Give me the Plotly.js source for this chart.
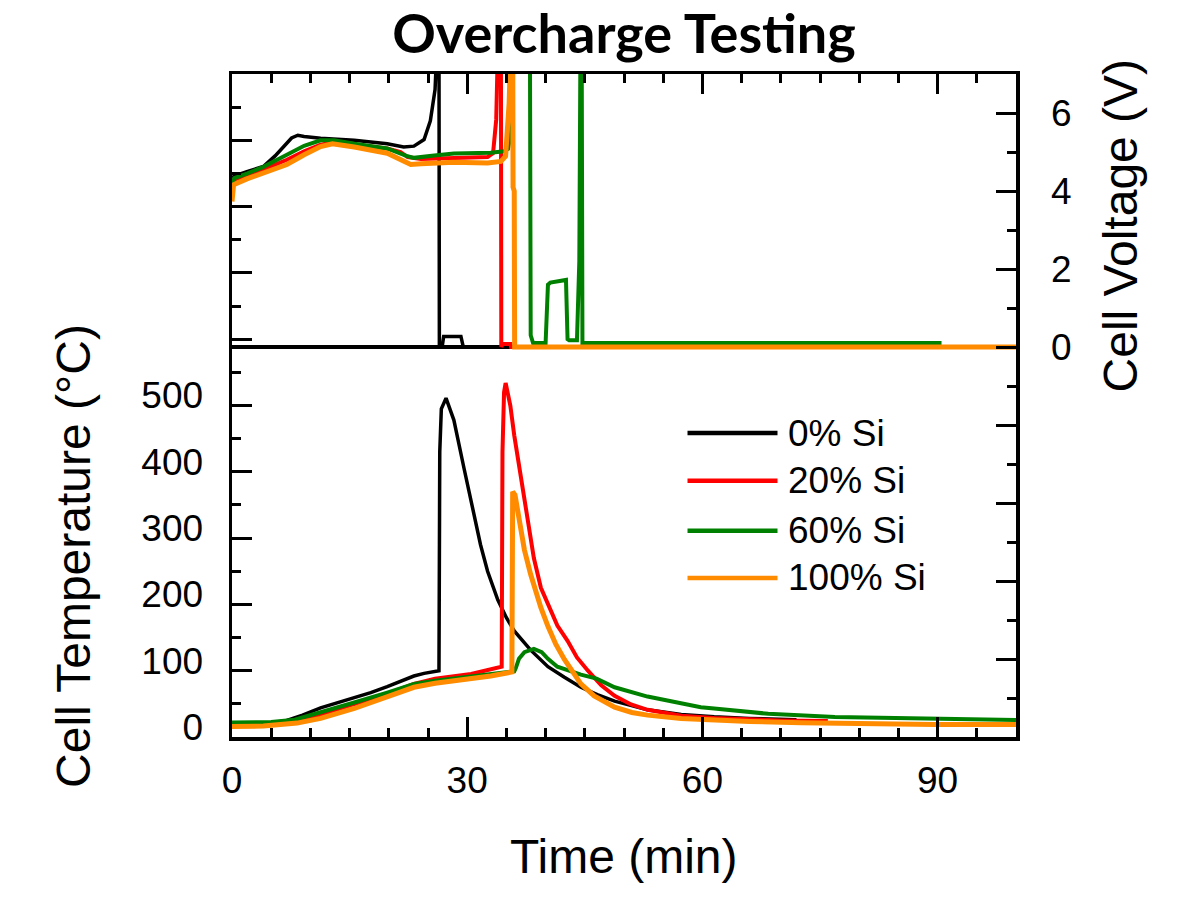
<!DOCTYPE html>
<html>
<head>
<meta charset="utf-8">
<script src="https://cdn.plot.ly/plotly-3.0.1.min.js"></script>
<style>html,body{margin:0;padding:0;background:#fff;}#chart{width:1192px;height:901px;}</style>
</head>
<body>
<div id="chart"></div>
<script>
// ---- Series names / colours ----
const seriesNames = ['0% Si', '20% Si', '60% Si', '100% Si'];
const seriesColors = ['#000000', '#ff0000', '#008000', '#ff8c00'];

// ---- Cell voltage (top panel), time in min, voltage in V ----
const vTime0 = [0,0.5,2,4,5.5,6.6,7.6,8.4,9.2,11.3,15.6,19.8,21.9,23.2,24.5,25.3,25.9,26.2,26.4,26.45,26.8,27.0,29.2,29.5,35];
const vVolt0 = [4.35,4.4,4.5,4.63,4.9,5.14,5.36,5.43,5.40,5.35,5.30,5.21,5.13,5.15,5.32,5.8,6.6,8,8,0,0,0.27,0.27,0,0];

const vTime20 = [0,0.3,2,4,7,9.2,11.3,13,15.6,19.8,21.5,22.4,24.1,28.3,32.6,33.3,33.7,33.95,34.3,34.35,34.5,35.5,35.6,36.5];
const vVolt20 = [4.1,4.29,4.42,4.55,4.80,5.02,5.19,5.25,5.19,5.09,5.0,4.87,4.82,4.85,4.87,4.97,5.83,8,8,0,0.08,0.08,0,0];

const vTime60 = [0,0.3,2,4,7,9.2,11.3,13,15.6,19.8,22.4,23.2,25.8,28.3,33,34.7,35.2,35.6,35.9,38.0,38.1,38.4,40.0,40.3,40.6,42.2,42.6,42.8,43.0,44.0,44.2,44.3,44.45,44.6,44.7,90.5];
const vVolt60 = [4.2,4.33,4.45,4.62,4.93,5.16,5.30,5.30,5.21,5.09,4.89,4.85,4.91,4.96,4.98,5.02,5.08,5.5,8,8,0.3,0.1,0.1,1.6,1.65,1.7,1.72,0.2,0.17,0.17,1.5,2.2,8,8,0.1,0.1];

const vTime100 = [0,0.2,1.9,4.1,7,9.2,11.3,12.8,15.6,19.8,21.5,22.8,24.1,28.3,32.6,34.3,34.9,35.35,35.6,35.8,35.85,36.0,36.05,100];
const vVolt100 = [3.73,4.16,4.31,4.46,4.68,4.93,5.14,5.21,5.13,4.97,4.80,4.68,4.70,4.74,4.72,4.76,4.89,6.26,8,8,4.1,4.0,0,0];

// ---- Cell temperature (bottom panel), time in min, temperature in °C ----
const tTime0 = [0,5,7,9,11.3,13.5,15.6,17.7,19.8,21.5,23.2,24.5,26.4,26.5,26.7,27.3,28.3,29.6,30.9,31.7,32.6,33.9,35,36,38.1,40.3,42.4,44.5,46.6,48.8,53,57.3,61.5,66,72];
const tTemp0 = [21,21,25,33,44,52,59,67,76,84,92,96,100,430,495,511,478,405,335,290,250,207,180,160,131,106,90,75,64,54,41,34,30.5,28,26];

const tTime20 = [0,5,8,11.3,15.6,19.8,23.2,25.9,30.5,34.1,34.4,34.5,34.7,34.9,35.5,36,36.6,37.3,38.1,38.5,39.4,40.3,41.5,42.8,44,45.4,47.1,48.8,50.9,53,57.3,61.5,66,70,76];
const tTemp20 = [19,19.5,22,34,50,65,80,88,95,104,106,430,520,534,500,455,410,365,300,270,225,200,168,145,120,100,78,62,49,41,32,28.5,26.5,25,24];

const tTime60 = [0,5,8,11.3,15.6,19.8,22,23.2,25.9,30.5,33,36,36.2,36.6,37.3,38.5,39.5,40.3,41.5,42.8,44.5,46.5,48.8,53,57.3,59.8,61.5,65.8,68.4,76.9,89.6,100];
const tTemp60 = [22,22.5,26,37,52,67,76,80,85,91,94,99,104,118,128,133,128,118,106,101,94,88,75,61,50,45,43,37.5,35,30,27,25.5];

const tTime100 = [0,4,8.3,11.3,15.6,19.8,23.2,25.9,30.5,33,35.7,35.8,36.1,36.4,37.3,38.1,39.4,40.3,41.3,42.4,43.5,44.5,46.2,48.8,51,53,57.3,61.5,66,72.6,80,89.6,100];
const tTemp100 = [16,16.5,21,28,43,60,75,81,88,92,98,370,365,345,282,245,195,167,140,117,98,80,62,45,37,33,28,25.5,23.5,21.5,20,19,19];

// ---- Tick labels ----
const xTickVals = [0, 30, 60, 90];
const tempTickVals = [0,100,200,300,400,500,600,700,800,900];
const tempTickText = ['0','100','200','300','400','500','','','',''];
const voltTickVals = [-8,-6,-4,-2,0,2,4,6];
const voltTickText = ['','','','','0','2','4','6'];

const lineWidths = [3.5, 4, 4, 5];
const vTimes = [vTime0, vTime20, vTime60, vTime100];
const vVolts = [vVolt0, vVolt20, vVolt60, vVolt100];
const tTimes = [tTime0, tTime20, tTime60, tTime100];
const tTemps = [tTemp0, tTemp20, tTemp60, tTemp100];

const traces = [];
for (let i = 0; i < 4; i++) {
  traces.push({x: tTimes[i], y: tTemps[i], type: 'scatter', mode: 'lines', name: seriesNames[i],
    xaxis: 'x', yaxis: 'y', line: {color: seriesColors[i], width: lineWidths[i]}, showlegend: false, hoverinfo: 'skip'});
}
for (let i = 0; i < 4; i++) {
  traces.push({x: vTimes[i], y: vVolts[i], type: 'scatter', mode: 'lines', name: seriesNames[i] + ' V',
    xaxis: 'x', yaxis: 'y2', line: {color: seriesColors[i], width: lineWidths[i]}, showlegend: false, hoverinfo: 'skip'});
}

const font = 'Liberation Sans, Arial, sans-serif';
const minorTicks = (d) => ({dtick: d, ticks: 'inside', ticklen: 9, tickwidth: 3, tickcolor: '#000', showgrid: false});

// custom legend (long line samples like the reference)
const legendY = [0.4585, 0.3866, 0.3112, 0.2399];
const shapes = [];
const annotations = [];
for (let i = 0; i < 4; i++) {
  shapes.push({type: 'line', xref: 'paper', yref: 'paper', x0: 0.581, x1: 0.6958, y0: legendY[i], y1: legendY[i],
    line: {color: seriesColors[i], width: 4.5}});
  annotations.push({xref: 'paper', yref: 'paper', x: 0.707, y: legendY[i], xanchor: 'left', yanchor: 'middle',
    text: seriesNames[i], showarrow: false, font: {family: font, size: 37, color: '#000'}});
}
annotations.push({xref: 'paper', yref: 'paper', x: 0.5, y: -0.18, xanchor: 'center', yanchor: 'middle',
  text: 'Time (min)', showarrow: false, font: {family: font, size: 48, color: '#000'}});
annotations.push({xref: 'paper', yref: 'paper', x: -0.2025, y: 0.2735, xanchor: 'center', yanchor: 'middle', textangle: -90,
  text: 'Cell Temperature (°C)', showarrow: false, font: {family: font, size: 48, color: '#000'}});
annotations.push({xref: 'paper', yref: 'paper', x: 1.1333, y: 0.7709, xanchor: 'center', yanchor: 'middle', textangle: -90,
  text: 'Cell Voltage (V)', showarrow: false, font: {family: font, size: 48, color: '#000'}});

const layout = {
  width: 1192, height: 901,
  paper_bgcolor: '#fff', plot_bgcolor: '#fff',
  margin: {l: 232, r: 176, t: 74, b: 164, pad: 0},
  showlegend: false,
  title: {text: '<b>Overcharge Testing</b>', font: {family: 'Lato, sans-serif', size: 54, color: '#000'},
    x: 0.5, xref: 'paper', xanchor: 'center', y: 0.962, yref: 'container', yanchor: 'middle'},
  xaxis: {range: [0, 100], tickmode: 'array', tickvals: xTickVals, ticks: 'inside', ticklen: 20, tickwidth: 3, tickcolor: '#000',
    showline: true, linewidth: 3.5, linecolor: '#000', mirror: 'ticks', showgrid: false, zeroline: false,
    tickfont: {family: font, size: 37, color: '#000'}, ticklabelstandoff: 8, minor: minorTicks(5)},
  yaxis: {range: [0, 1000], tickmode: 'array', tickvals: tempTickVals, ticktext: tempTickText, ticks: 'inside', ticklen: 20, tickwidth: 3, tickcolor: '#000',
    showline: true, linewidth: 3.5, linecolor: '#000', mirror: false, showgrid: false, zeroline: false,
    tickfont: {family: font, size: 37, color: '#000'}, ticklabelstandoff: 18, ticklabelshift: -10, minor: minorTicks(50)},
  yaxis2: {overlaying: 'y', side: 'right', range: [-10, 7], tickmode: 'array', tickvals: voltTickVals, ticktext: voltTickText,
    ticks: 'inside', ticklen: 20, tickwidth: 3, tickcolor: '#000',
    showline: true, linewidth: 3.5, linecolor: '#000', showgrid: false, zeroline: true, zerolinecolor: '#000', zerolinewidth: 3.5,
    tickfont: {family: font, size: 37, color: '#000'}, ticklabelstandoff: 24, minor: minorTicks(1)},
  shapes: shapes,
  annotations: annotations
};

Plotly.newPlot('chart', traces, layout, {staticPlot: true, displayModeBar: false});
</script>
</body>
</html>
